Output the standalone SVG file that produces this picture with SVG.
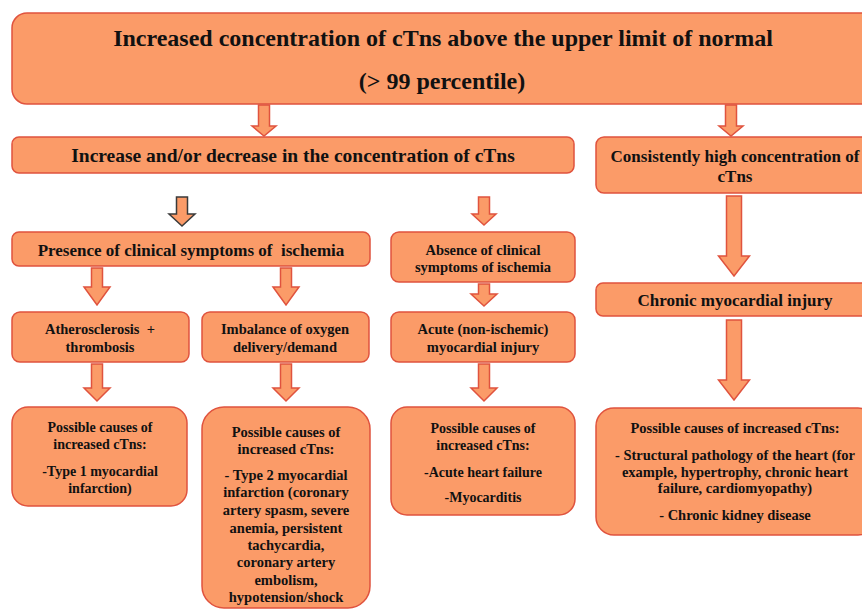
<svg xmlns="http://www.w3.org/2000/svg" width="862" height="609" viewBox="0 0 862 609">
<style>
.box{fill:#FB9B68;stroke:#E0533E;stroke-width:1.5}
.arr{fill:#FB9B68;stroke:#E0533E;stroke-width:1.5;stroke-linejoin:miter}
.dark{stroke:#3a3a3a}
text{font-family:'Liberation Serif','Tinos','Times New Roman','DejaVu Serif',serif;font-weight:700;fill:#111;text-anchor:middle}
.t24{font-size:24px}
.t17{font-size:17px}
.t19{font-size:19.5px}
.t14{font-size:14.5px}
.t14b{font-size:14px}
.pre{white-space:pre}
</style>
<rect width="862" height="609" fill="#fff"/>
<g id="connectors">
<polygon class="arr" points="258.5,105 269.5,105 269.5,126 276,126 264,136 252,126 258.5,126"/>
<polygon class="arr" points="725.5,105 736.5,105 736.5,126 743,126 731,136 719,126 725.5,126"/>
<polygon class="arr dark" points="176.5,197 187.5,197 187.5,214 195,214 182,226 169,214 176.5,214"/>
<polygon class="arr" points="478.5,197 489.5,197 489.5,214 496,214 484,225 472,214 478.5,214"/>
<polygon class="arr" points="726.5,196 741.5,196 741.5,256 749.5,256 734,276 718.5,256 726.5,256"/>
<polygon class="arr" points="91.5,268 102.5,268 102.5,287 110,287 97,305 84,287 91.5,287"/>
<polygon class="arr" points="280.5,268 291.5,268 291.5,287 299,287 286,305 273,287 280.5,287"/>
<polygon class="arr" points="478.5,284 489.5,284 489.5,294 497,294 484,306 471,294 478.5,294"/>
<polygon class="arr" points="91.5,364 102.5,364 102.5,388 110,388 97,401 84,388 91.5,388"/>
<polygon class="arr" points="280.5,364 291.5,364 291.5,388 299,388 286,401 273,388 280.5,388"/>
<polygon class="arr" points="478.5,364 489.5,364 489.5,388 497,388 484,401 471,388 478.5,388"/>
<polygon class="arr" points="726.5,320 741.5,320 741.5,380 749.5,380 734,400 718.5,380 726.5,380"/>
</g>
<g id="top">
<rect class="box" x="12" y="13" width="880" height="91" rx="15"/>
<text class="t24" x="443" y="46">Increased concentration of cTns above the upper limit of normal</text>
<text class="t24" x="442" y="89">(&gt; 99 percentile)</text>
</g>
<g id="change">
<rect class="box" x="12" y="137" width="562" height="36" rx="7"/>
<text class="t19" x="293" y="162">Increase and/or decrease in the concentration of cTns</text>
</g>
<g id="consistent">
<rect class="box" x="596" y="137" width="280" height="56" rx="8"/>
<text class="t17" x="735" y="162">Consistently high concentration of</text>
<text class="t17" x="735" y="182">cTns</text>
</g>
<g id="presence">
<rect class="box" x="12" y="232" width="358" height="34" rx="7"/>
<text class="t17 pre" x="191" y="256">Presence of clinical symptoms of  ischemia</text>
</g>
<g id="absence">
<rect class="box" x="391" y="232" width="184" height="50" rx="8"/>
<text class="t14" x="483" y="255">Absence of clinical</text>
<text class="t14" x="483" y="272">symptoms of ischemia</text>
</g>
<g id="chronic">
<rect class="box" x="596" y="283" width="280" height="33" rx="7"/>
<text class="t17" x="735" y="306">Chronic myocardial injury</text>
</g>
<g id="athero">
<rect class="box" x="12" y="312" width="177" height="50" rx="8"/>
<text class="t14 pre" x="100" y="334">Atherosclerosis  +</text>
<text class="t14" x="100" y="352">thrombosis</text>
</g>
<g id="imbalance">
<rect class="box" x="202" y="312" width="167" height="50" rx="8"/>
<text class="t14" x="285" y="334">Imbalance of oxygen</text>
<text class="t14" x="285" y="352">delivery/demand</text>
</g>
<g id="acute">
<rect class="box" x="391" y="312" width="184" height="50" rx="8"/>
<text class="t14" x="483" y="334">Acute (non-ischemic)</text>
<text class="t14" x="483" y="352">myocardial injury</text>
</g>
<g id="causes1">
<rect class="box" x="12" y="407" width="175" height="99" rx="16"/>
<text class="t14b" x="100" y="432">Possible causes of</text>
<text class="t14b" x="100" y="449">increased cTns:</text>
<text class="t14b" x="100" y="476">-Type 1 myocardial</text>
<text class="t14b" x="100" y="493">infarction)</text>
</g>
<g id="causes2">
<rect class="box" x="202" y="407" width="168" height="201" rx="22"/>
<text class="t14" x="286" y="437">Possible causes of</text>
<text class="t14" x="286" y="454">increased cTns:</text>
<text class="t14" x="286" y="480">- Type 2 myocardial</text>
<text class="t14" x="286" y="497">infarction (coronary</text>
<text class="t14" x="286" y="515">artery spasm, severe</text>
<text class="t14" x="286" y="533">anemia, persistent</text>
<text class="t14" x="286" y="550">tachycardia,</text>
<text class="t14" x="286" y="567">coronary artery</text>
<text class="t14" x="286" y="585">embolism,</text>
<text class="t14" x="286" y="602">hypotension/shock</text>
</g>
<g id="causes3">
<rect class="box" x="391" y="407" width="184" height="108" rx="16"/>
<text class="t14b" x="483" y="433">Possible causes of</text>
<text class="t14b" x="483" y="450">increased cTns:</text>
<text class="t14b" x="483" y="477">-Acute heart failure</text>
<text class="t14b" x="483" y="502">-Myocarditis</text>
</g>
<g id="causes4">
<rect class="box" x="596" y="408" width="280" height="127" rx="18"/>
<text class="t14" x="735" y="433">Possible causes of increased cTns:</text>
<text class="t14" x="735" y="460">- Structural pathology of the heart (for</text>
<text class="t14" x="735" y="477">example, hypertrophy, chronic heart</text>
<text class="t14" x="735" y="493">failure, cardiomyopathy)</text>
<text class="t14" x="735" y="520">- Chronic kidney disease</text>
</g>
</svg>
